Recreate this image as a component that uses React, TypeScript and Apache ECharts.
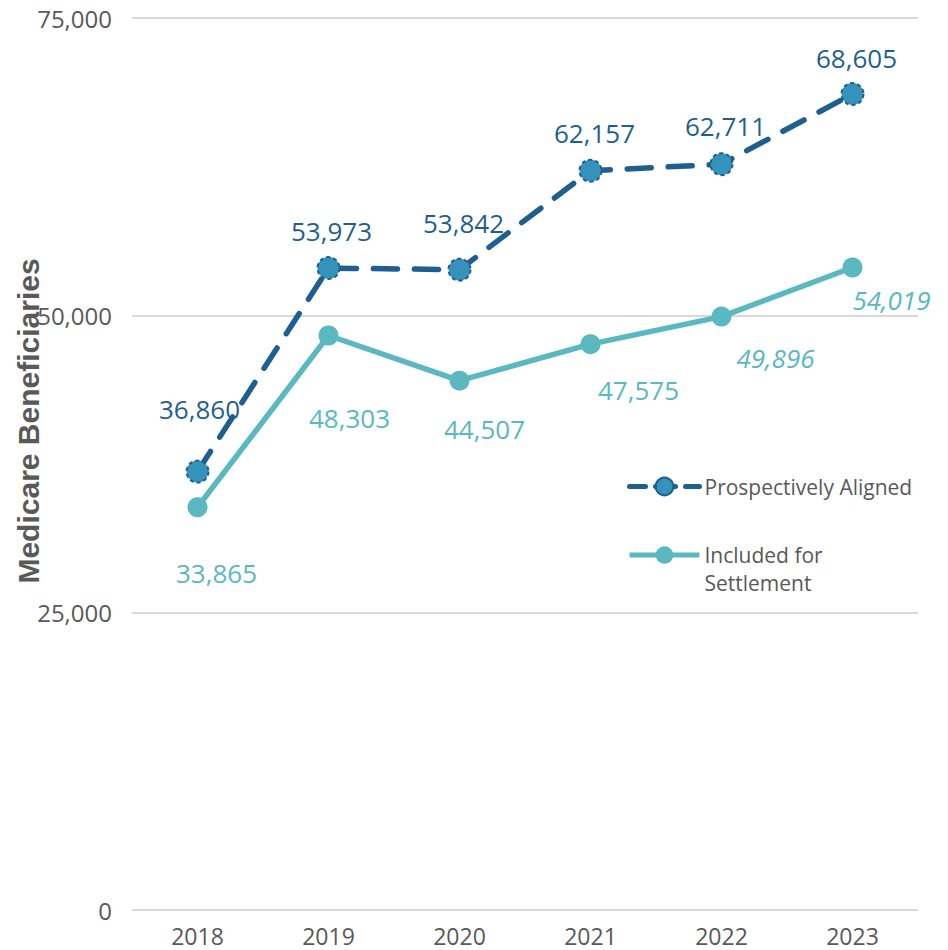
import React, { useEffect, useRef } from "react";
import * as echarts from "echarts";

const years = ["2018", "2019", "2020", "2021", "2022", "2023"];
const prospectivelyAligned = [36860, 53973, 53842, 62157, 62711, 68605];
const includedForSettlement = [33865, 48303, 44507, 47575, 49896, 54019];
const yTicks = { min: 0, max: 75000, interval: 25000 };

// label placement (layout only)
const paLabelOffsets = [[2, -63], [3, -37], [4, -47], [4, -38], [4, -38], [4, -36]];
const isLabelOffsets = [[19, 66], [21, 82], [25, 48], [48, 46], [54, 41], [39, 32]];
const isItalic = [false, false, false, false, true, true];

const DARK = "#1F5F8F";
const DARK_FILL = "#3592BA";
const TEAL = "#5AB8C1";
const GRAY = "#595959";
const FONT = "Open Sans";

export default function App() {
  const ref = useRef<HTMLDivElement>(null);
  useEffect(() => {
    if (!ref.current) return;
    const chart = echarts.init(ref.current, null, { renderer: "svg" });
    const fmt = (v: number) => v.toLocaleString("en-US");
    chart.setOption({
      animation: false,
      grid: { left: 132, right: 30, top: 18, bottom: 40, containLabel: false },
      xAxis: {
        type: "category",
        data: years,
        boundaryGap: true,
        axisLine: { show: false },
        axisTick: { show: false },
        axisLabel: { color: GRAY, fontSize: 23, fontFamily: FONT, margin: 14 },
      },
      yAxis: {
        type: "value",
        min: yTicks.min,
        max: yTicks.max,
        interval: yTicks.interval,
        axisLine: { show: false },
        axisTick: { show: false },
        axisLabel: {
          color: GRAY,
          fontSize: 24,
          fontFamily: FONT,
          margin: 20,
          formatter: (v: number) => fmt(v),
        },
        splitLine: { lineStyle: { color: "#D9D9D9", width: 2 } },
      },
      legend: [
        {
          data: ["Prospectively Aligned"],
          left: 622,
          top: 471,
          orient: "vertical",
          itemWidth: 70,
          itemHeight: 22,
          lineStyle: { width: 5, type: "dashed", dashOffset: 4 },
          textStyle: { color: GRAY, fontSize: 21, fontFamily: FONT },
        },
        {
          data: ["Included for Settlement"],
          left: 622,
          top: 508,
          orient: "vertical",
          itemWidth: 70,
          itemHeight: 22,
          lineStyle: { width: 5 },
          formatter: () => "\nIncluded for\nSettlement",
          textStyle: {
            color: GRAY,
            fontSize: 21,
            fontFamily: FONT,
            lineHeight: 28,
          },
        },
      ],
      graphic: [
        {
          type: "text",
          x: 28,
          y: 421,
          rotation: Math.PI / 2,
          style: {
            text: "Medicare Beneficiaries",
            fill: GRAY,
            font: "bold 30px 'Liberation Sans', Arial, sans-serif",
            align: "center",
            verticalAlign: "middle",
          },
        },
      ],
      series: [
        {
          name: "Included for Settlement",
          type: "line",
          z: 2,
          data: includedForSettlement.map((v, i) => ({
            value: v,
            label: {
              offset: isLabelOffsets[i],
              fontStyle: isItalic[i] ? "italic" : "normal",
            },
          })),
          symbol: "circle",
          symbolSize: 20,
          lineStyle: { color: TEAL, width: 5.5 },
          itemStyle: { color: TEAL },
          label: {
            show: true,
            position: "inside",
            color: TEAL,
            fontSize: 26,
            fontFamily: FONT,
            formatter: (p: any) => fmt(p.value),
          },
        },
        {
          name: "Prospectively Aligned",
          type: "line",
          z: 3,
          data: prospectivelyAligned.map((v, i) => ({
            value: v,
            label: { offset: paLabelOffsets[i] },
          })),
          symbol: "circle",
          symbolSize: 22,
          lineStyle: { color: DARK, width: 5.5, type: [24, 17], cap: "round" },
          itemStyle: {
            color: DARK_FILL,
            borderColor: DARK,
            borderWidth: 2,
            borderType: [4, 3],
          },
          label: {
            show: true,
            position: "inside",
            color: DARK,
            fontSize: 26,
            fontFamily: FONT,
            formatter: (p: any) => fmt(p.value),
          },
        },
      ],
    });
    return () => chart.dispose();
  }, []);
  return <div ref={ref} style={{ width: 948, height: 950, position: "absolute", left: 0, top: 0 }} />;
}
